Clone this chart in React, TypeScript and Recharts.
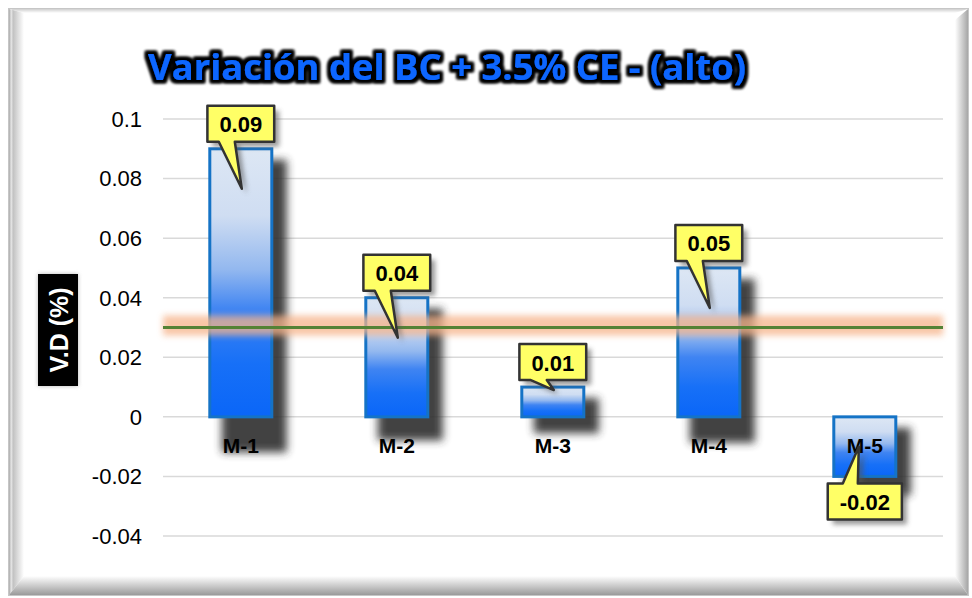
import React from 'react';
import { BarChart, Bar, XAxis, YAxis, CartesianGrid, ReferenceLine, LabelList } from 'recharts';

const categories = ['M-1', 'M-2', 'M-3', 'M-4', 'M-5'];
const variation = [0.09, 0.04, 0.01, 0.05, -0.02];
const yTicks = [-0.04, -0.02, 0, 0.02, 0.04, 0.06, 0.08, 0.1];
const limitValue = 0.03;
const chartTitle = 'Variación del BC + 3.5% CE - (alto)';
const yAxisTitle = 'V.D (%)';

const data = categories.map((name, i) => ({ name, value: variation[i] }));

const FONT = '"Liberation Sans", Arial, sans-serif';

// rough Arial bold advance widths, used to size the callout boxes
const charW: Record<string, number> = { '0': 0.556, '.': 0.278, '-': 0.333 };
const textWidth = (s: string, size: number) =>
    s.split('').reduce((acc, c) => acc + (charW[c] ?? 0.556), 0) * size;

const GlassBar = (props: any) => {
    const { x, y, width, height } = props;
    const top = Math.min(y, y + height);
    const h = Math.abs(height);
    const drop = 14 + h * 0.08;
    return (
        <g>
            <rect
                x={x + 12}
                y={top + 11}
                width={width + 3}
                height={h + drop - 11}
                fill="#333"
                opacity={0.92}
                filter="url(#barShadow)"
            />
            <rect x={x} y={top} width={width} height={h} fill="url(#barFill)" stroke="#1573c6" strokeWidth={3} />
        </g>
    );
};

const CategoryLabel = (props: any) => {
    const { x, y, width, height, value, index } = props;
    const baseline = variation[index] >= 0 ? Math.max(y, y + height) : Math.min(y, y + height);
    return (
        <text
            x={x + width / 2}
            y={baseline + 29}
            textAnchor="middle"
            dominantBaseline="central"
            fontFamily={FONT}
            fontWeight="bold"
            fontSize={21}
            fill="#000"
        >
            {value}
        </text>
    );
};

const Callout = (props: any) => {
    const { x, y, width, height, value } = props;
    const cx = x + width / 2;
    const top = Math.min(y, y + height);
    const bottom = Math.max(y, y + height);
    const h = bottom - top;
    const label = String(value);
    const w = textWidth(label, 22) + 24;
    const bh = 36;
    const depth = h >= 50 ? Math.min(40, h / 2) : 3;
    let d: string;
    let boxTop: number;
    if (value >= 0) {
        const bb = top - 7;
        boxTop = bb - bh;
        d = `M${cx - w / 2},${boxTop} H${cx + w / 2} V${bb} H${cx - 6} L${cx + 1},${top + depth} L${cx - 22},${bb} H${cx - w / 2} Z`;
    } else {
        boxTop = bottom + 7;
        d = `M${cx - w / 2},${boxTop} H${cx - 22} L${cx - 6},${bottom - depth} L${cx - 7},${boxTop} H${cx + w / 2} V${boxTop + bh} H${cx - w / 2} Z`;
    }
    return (
        <g>
            <path d={d} transform="translate(5,5)" fill="#555" opacity={0.6} filter="url(#calloutShadow)" />
            <path d={d} fill="#ffff66" stroke="#333" strokeWidth={2.5} strokeLinejoin="round" />
            <text
                x={cx}
                y={boxTop + bh / 2 + 1}
                textAnchor="middle"
                dominantBaseline="central"
                fontFamily={FONT}
                fontWeight="bold"
                fontSize={22}
                fill="#000"
            >
                {label}
            </text>
        </g>
    );
};

// soft orange halo behind the limit line
const LimitGlow = (props: any) => (
    <rect
        x={props.x1}
        y={props.y1 - 12}
        width={props.x2 - props.x1}
        height={20}
        fill="#f6b48a"
        opacity={0.75}
        filter="url(#glowBlur)"
    />
);

const Frame = () => (
    <svg width={972} height={598} style={{ position: 'absolute', left: 0, top: 0 }}>
        <defs>
            <linearGradient id="barFill" x1="0" y1="0" x2="0" y2="1">
                <stop offset="0%" stopColor="#dde7f4" />
                <stop offset="25%" stopColor="#cfddf2" />
                <stop offset="45%" stopColor="#93b8ef" />
                <stop offset="60%" stopColor="#3f84f2" />
                <stop offset="80%" stopColor="#1770f7" />
                <stop offset="100%" stopColor="#0a66f8" />
            </linearGradient>
            <filter id="barShadow" x="-30%" y="-30%" width="160%" height="160%">
                <feGaussianBlur stdDeviation="4" />
            </filter>
            <filter id="calloutShadow" x="-30%" y="-30%" width="160%" height="160%">
                <feGaussianBlur stdDeviation="2.5" />
            </filter>
            <filter id="glowBlur" x="-5%" y="-60%" width="110%" height="220%">
                <feGaussianBlur stdDeviation="3" />
            </filter>
            <filter id="titleGlow" x="-10%" y="-40%" width="120%" height="180%">
                <feMorphology in="SourceAlpha" operator="dilate" radius="2.6" result="d" />
                <feGaussianBlur in="d" stdDeviation="1.5" result="b" />
                <feFlood floodColor="#000" floodOpacity="1" />
                <feComposite in2="b" operator="in" result="s" />
                <feMerge>
                    <feMergeNode in="s" />
                    <feMergeNode in="s" />
                    <feMergeNode in="SourceGraphic" />
                </feMerge>
            </filter>
            <filter id="boxGlow" x="-40%" y="-20%" width="180%" height="140%">
                <feGaussianBlur stdDeviation="2" />
            </filter>
            <linearGradient id="bevelLeft" x1="0" y1="0" x2="1" y2="0">
                <stop offset="0%" stopColor="#a9a9a9" />
                <stop offset="15%" stopColor="#e6e6e6" />
                <stop offset="28%" stopColor="#c2c2c2" />
                <stop offset="100%" stopColor="#ffffff" />
            </linearGradient>
            <linearGradient id="bevelTop" x1="0" y1="0" x2="0" y2="1">
                <stop offset="0%" stopColor="#cfcfcf" />
                <stop offset="100%" stopColor="#ffffff" />
            </linearGradient>
            <linearGradient id="bevelRight" x1="0" y1="0" x2="1" y2="0">
                <stop offset="0%" stopColor="#ffffff" />
                <stop offset="100%" stopColor="#a6a6a6" />
            </linearGradient>
            <linearGradient id="bevelBottom" x1="0" y1="0" x2="0" y2="1">
                <stop offset="0%" stopColor="#ffffff" />
                <stop offset="100%" stopColor="#9a9a9a" />
            </linearGradient>
        </defs>
        <rect x={0} y={0} width={972} height={598} fill="#ffffff" />
        <rect x={8.5} y={8.5} width={960} height={587} fill="#ffffff" stroke="#c6c6c6" />
        <polygon points="9,9 968,9 955,13 24,13" fill="url(#bevelTop)" />
        <polygon points="9,9 24,13 24,576 9,595" fill="url(#bevelLeft)" />
        <polygon points="968,9 968,595 955,576 955,20" fill="url(#bevelRight)" />
        <polygon points="9,595 24,576 955,576 968,595" fill="url(#bevelBottom)" />
    </svg>
);

const Overlay = () => (
    <svg width={972} height={598} style={{ position: 'absolute', left: 0, top: 0, pointerEvents: 'none' }}>
        <text
            x={447}
            y={66}
            textAnchor="middle"
            dominantBaseline="central"
            fontFamily='"Open Sans", sans-serif'
            fontWeight="bold"
            fontSize={36}
            fill="#0a66ff"
            textLength={598}
            lengthAdjust="spacingAndGlyphs"
            filter="url(#titleGlow)"
        >
            {chartTitle}
        </text>
        <rect x={38} y={274} width={40} height={112} fill="#888" opacity={0.6} filter="url(#boxGlow)" />
        <rect x={38} y={274} width={40} height={112} fill="#000" />
        <text
            x={0}
            y={0}
            transform="translate(59,330) rotate(-90)"
            textAnchor="middle"
            dominantBaseline="central"
            fontFamily={FONT}
            fontWeight="bold"
            fontSize={25}
            fill="#fff"
        >
            {yAxisTitle}
        </text>
    </svg>
);

export default function App() {
    return (
        <div style={{ position: 'absolute', left: 0, top: 0, width: 972, height: 598 }}>
            <Frame />
            <div style={{ position: 'absolute', left: 0, top: 0 }}>
                <BarChart
                    width={972}
                    height={598}
                    data={data}
                    barCategoryGap="30%"
                    margin={{ top: 119, right: 29, bottom: 62, left: 0 }}
                >
                    <CartesianGrid horizontal vertical={false} stroke="#d9d9d9" strokeWidth={1.5} />
                    <XAxis dataKey="name" hide />
                    <XAxis dataKey="name" xAxisId="over" hide />
                    <YAxis
                        width={163}
                        domain={[-0.04, 0.1]}
                        ticks={yTicks}
                        interval={0}
                        axisLine={false}
                        tickLine={false}
                        tickMargin={15}
                        tick={{ fontSize: 22, fill: '#000', fontFamily: FONT }}
                    />
                    <Bar dataKey="value" shape={GlassBar} isAnimationActive={false}>
                        <LabelList dataKey="name" content={CategoryLabel} />
                    </Bar>
                    <ReferenceLine y={limitValue} shape={LimitGlow} />
                    <ReferenceLine y={limitValue} stroke="#548235" strokeWidth={3} />
                    <Bar dataKey="value" xAxisId="over" fill="none" isAnimationActive={false}>
                        <LabelList dataKey="value" content={Callout} />
                    </Bar>
                </BarChart>
            </div>
            <Overlay />
        </div>
    );
}
